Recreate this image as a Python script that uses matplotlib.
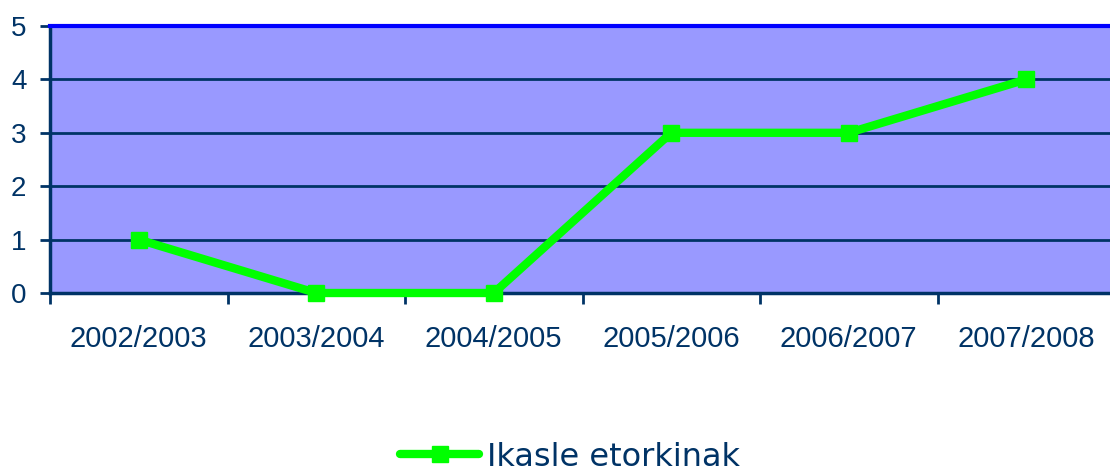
import matplotlib
matplotlib.use("Agg")
import matplotlib.pyplot as plt

categories = ["2002/2003", "2003/2004", "2004/2005", "2005/2006", "2006/2007", "2007/2008"]
values = [1, 0, 0, 3, 3, 4]
series_name = "Ikasle etorkinak"
y_ticks = [0, 1, 2, 3, 4, 5]

W, H = 1110, 472
fig = plt.figure(figsize=(W / 100, H / 100), dpi=100)
left, right = 50 / W, 1115 / W
bottom, top = 1 - 293 / H, 1 - 26 / H
ax = fig.add_axes([left, bottom, right - left, top - bottom])

navy = "#003366"
ax.set_facecolor("#9999FF")
ax.set_xlim(-0.5, len(categories) - 0.5)
ax.set_ylim(0, 5)

for y in y_ticks[1:]:
    ax.axhline(y, color=navy, lw=2, zorder=1)

x = list(range(len(categories)))
ax.plot(x, values, color="#00FF00", lw=6, marker="s", ms=12,
        markeredgecolor="#00FF00", solid_joinstyle="miter", solid_capstyle="round",
        zorder=3, label=series_name, clip_on=False)

ax.spines["right"].set_visible(False)
ax.spines["top"].set_color("#0000FF")
ax.spines["top"].set_linewidth(3)
ax.spines["left"].set_color(navy)
ax.spines["left"].set_linewidth(2.5)
ax.spines["bottom"].set_color(navy)
ax.spines["bottom"].set_linewidth(2.5)

ax.set_yticks(y_ticks)
ax.set_yticklabels([str(v) for v in y_ticks], fontsize=20, color=navy, family="Liberation Sans")
ax.tick_params(axis="y", length=7, width=2, color=navy, pad=10)

ax.set_xticks([i + 0.5 for i in range(-1, len(categories))], minor=False)
ax.set_xticklabels([])
ax.tick_params(axis="x", which="major", length=8, width=2, color=navy)
ax.set_xticks(x, minor=True)
ax.set_xticklabels(categories, minor=True, fontsize=21, color=navy, family="Liberation Sans")
ax.tick_params(axis="x", which="minor", length=0, pad=23)

leg = fig.legend(loc="center", bbox_to_anchor=(570 / W, 1 - 457 / H), frameon=False,
                 prop={"family": "DejaVu Sans", "size": 23}, handlelength=2.5,
                 handletextpad=0.25, labelcolor=navy)

fig.savefig("out.png", dpi=100)
